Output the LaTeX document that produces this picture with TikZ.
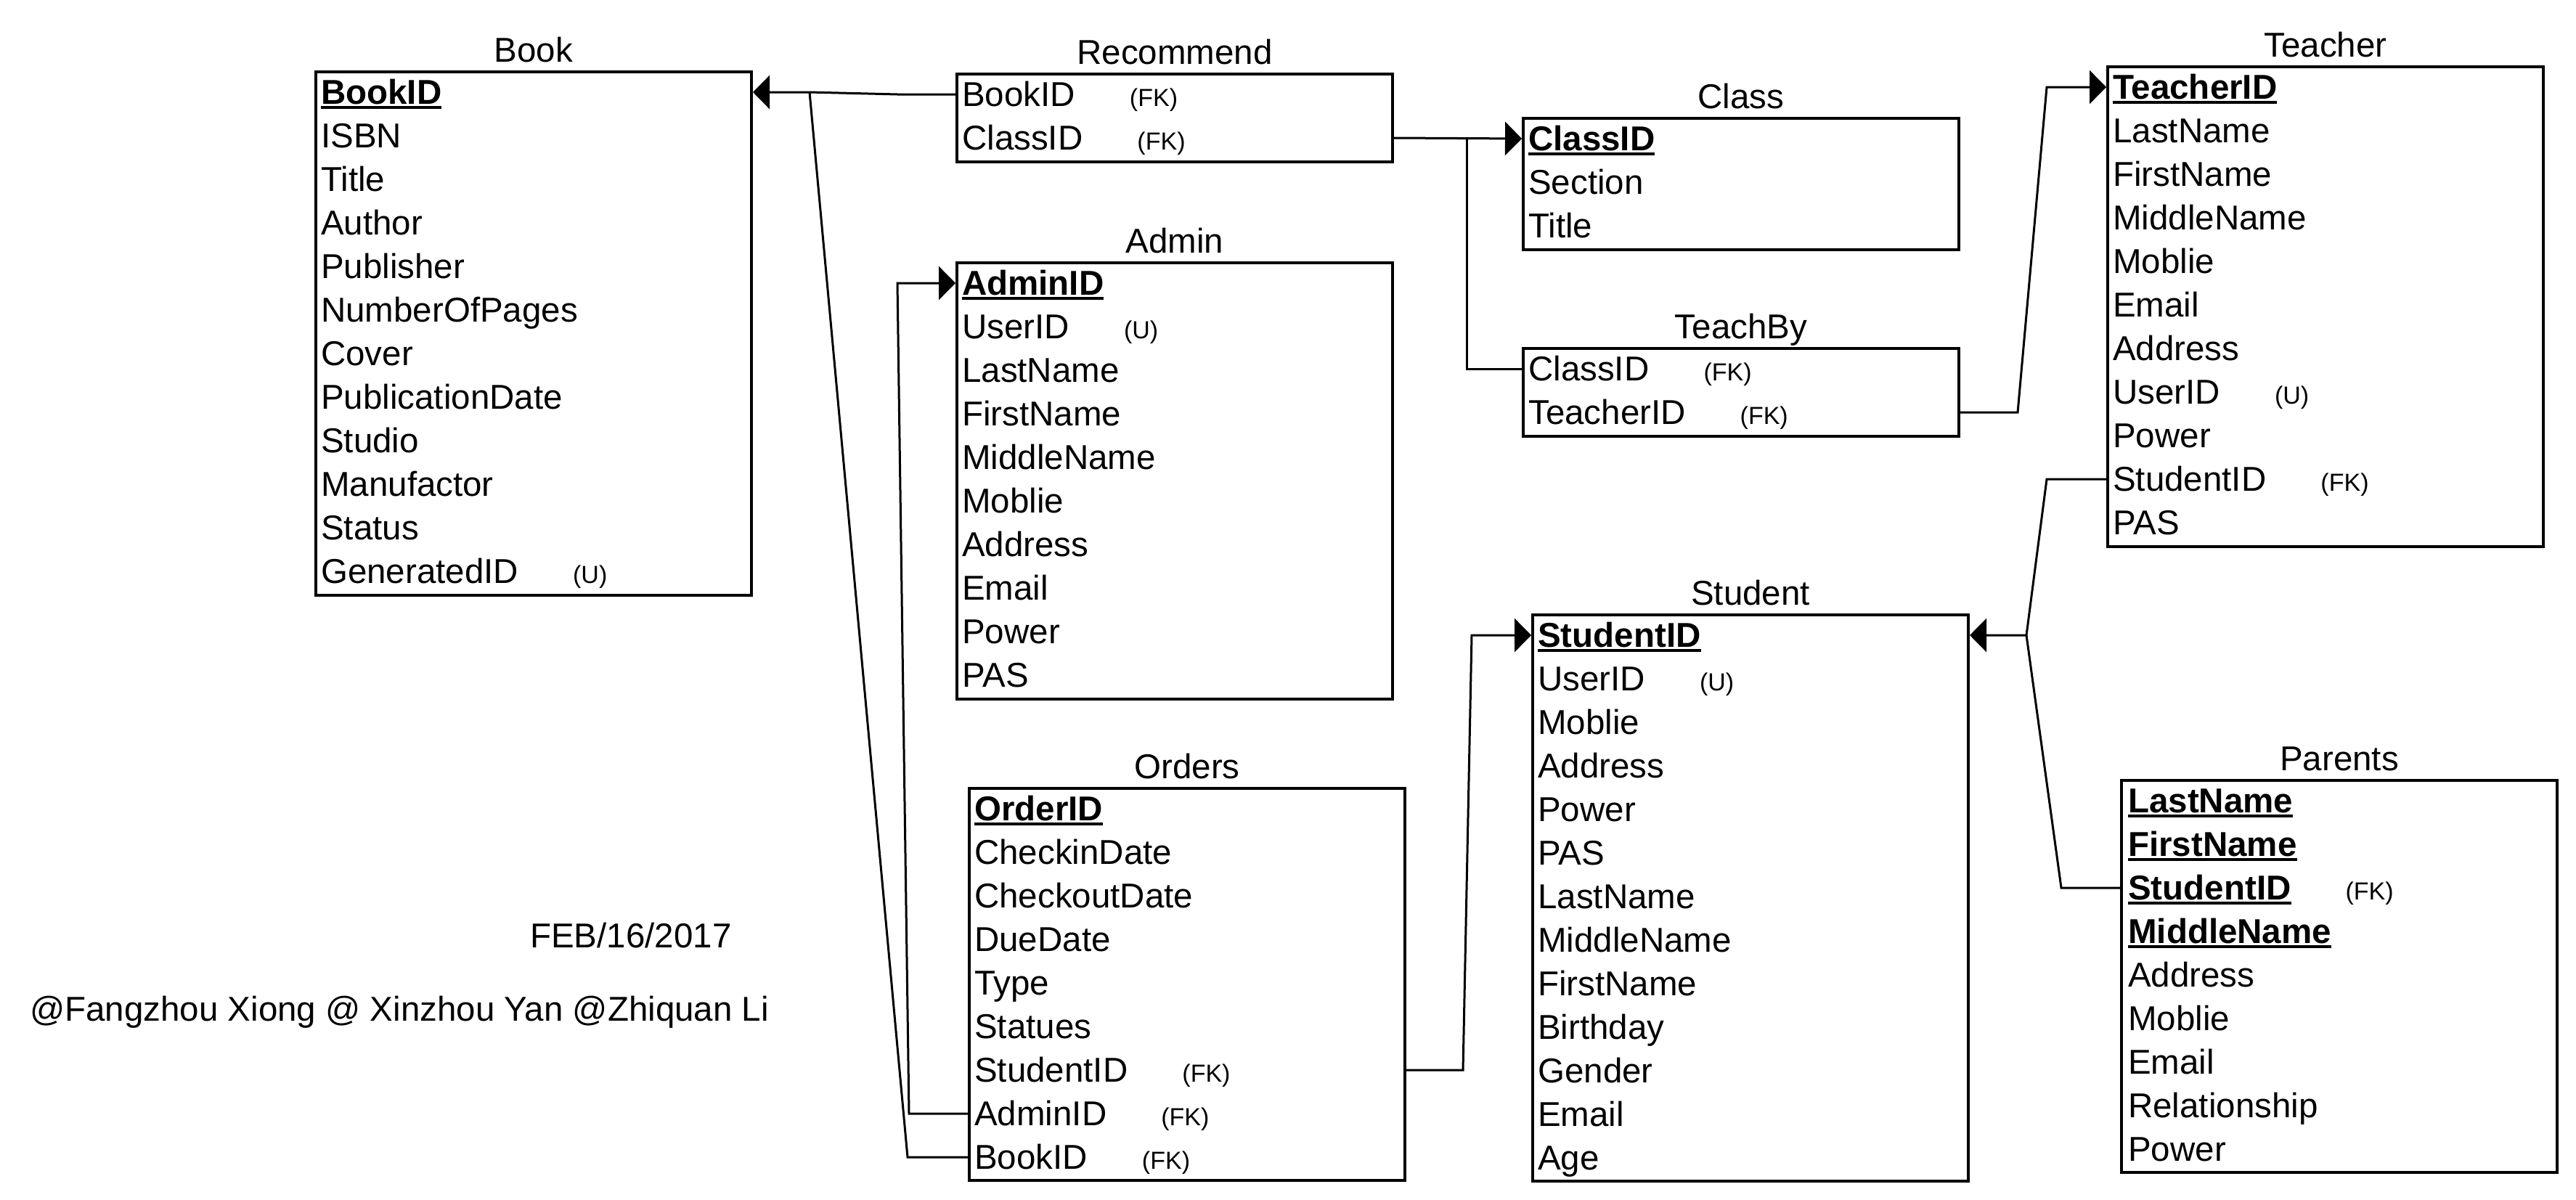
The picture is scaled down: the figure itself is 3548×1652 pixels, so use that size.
\documentclass[tikz,border=0pt]{standalone}
\usepackage{fontspec}
\setmainfont{Liberation Sans}
\usetikzlibrary{arrows.meta,calc}

\newcommand{\pk}[1]{\setbox0\hbox{\bfseries #1}\rlap{\rule[-7pt]{\wd0}{4pt}}\box0}
\newcommand{\fk}{\hspace{75pt}{\fontsize{34}{40}\selectfont (FK)}}
\newcommand{\uq}{\hspace{75pt}{\fontsize{34}{40}\selectfont (U)}}

\begin{document}
\begin{tikzpicture}[x=1pt,y=-1pt,
  every node/.style={font=\fontsize{47.5}{57}\selectfont},
  entity/.style={draw, line width=4pt, minimum width=600pt, inner sep=0pt, anchor=north west},
  title/.style={anchor=base, inner sep=0pt},
  field/.style={anchor=base west, inner sep=0pt, text height=38pt, text depth=6pt},
  link/.style={line width=3pt},
  fkarrow/.style={-{Triangle[length=23pt,width=46pt]}}]
\useasboundingbox (0,0) rectangle (3548,1652);
% tables
\node[entity, minimum height=721pt] (book) at (433,97) {};
\node[title] (booktitle) at ([yshift=12pt]book.north) {Book};
\foreach \f [count=\i] in {\pk{BookID},ISBN,Title,Author,Publisher,NumberOfPages,Cover,PublicationDate,Studio,Manufactor,Status,GeneratedID\uq}
  \node[field] (book\i) at ([xshift=9pt,yshift={-46pt-60pt*(\i-1)}]book.north west) {\f};

\node[entity, minimum height=121pt] (recommend) at (1316,100) {};
\node[title] (rectitle) at ([yshift=12pt]recommend.north) {Recommend};
\foreach \f [count=\i] in {BookID\fk,ClassID\fk}
  \node[field] (rec\i) at ([xshift=9pt,yshift={-46pt-60pt*(\i-1)}]recommend.north west) {\f};

\node[entity, minimum height=181pt] (class) at (2096,161) {};
\node[title] (classtitle) at ([yshift=12pt]class.north) {Class};
\foreach \f [count=\i] in {\pk{ClassID},Section,Title}
  \node[field] (cls\i) at ([xshift=9pt,yshift={-46pt-60pt*(\i-1)}]class.north west) {\f};

\node[entity, minimum height=601pt] (admin) at (1316,360) {};
\node[title] (admintitle) at ([yshift=12pt]admin.north) {Admin};
\foreach \f [count=\i] in {\pk{AdminID},UserID\uq,LastName,FirstName,MiddleName,Moblie,Address,Email,Power,PAS}
  \node[field] (adm\i) at ([xshift=9pt,yshift={-46pt-60pt*(\i-1)}]admin.north west) {\f};

\node[entity, minimum height=121pt] (teachby) at (2096,478) {};
\node[title] (tbtitle) at ([yshift=12pt]teachby.north) {TeachBy};
\foreach \f [count=\i] in {ClassID\fk,TeacherID\fk}
  \node[field] (tb\i) at ([xshift=9pt,yshift={-46pt-60pt*(\i-1)}]teachby.north west) {\f};

\node[entity, minimum height=661pt] (teacher) at (2901,90) {};
\node[title] (teachertitle) at ([yshift=12pt]teacher.north) {Teacher};
\foreach \f [count=\i] in {\pk{TeacherID},LastName,FirstName,MiddleName,Moblie,Email,Address,UserID\uq,Power,StudentID\fk,PAS}
  \node[field] (tch\i) at ([xshift=9pt,yshift={-46pt-60pt*(\i-1)}]teacher.north west) {\f};

\node[entity, minimum height=780pt] (student) at (2109,845) {};
\node[title] (studenttitle) at ([yshift=12pt]student.north) {Student};
\foreach \f [count=\i] in {\pk{StudentID},UserID\uq,Moblie,Address,Power,PAS,LastName,MiddleName,FirstName,Birthday,Gender,Email,Age}
  \node[field] (stu\i) at ([xshift=9pt,yshift={-46pt-60pt*(\i-1)}]student.north west) {\f};

\node[entity, minimum height=540pt] (orders) at (1333,1084) {};
\node[title] (orderstitle) at ([yshift=12pt]orders.north) {Orders};
\foreach \f [count=\i] in {\pk{OrderID},CheckinDate,CheckoutDate,DueDate,Type,Statues,StudentID\fk,AdminID\fk,BookID\fk}
  \node[field] (ord\i) at ([xshift=9pt,yshift={-46pt-60pt*(\i-1)}]orders.north west) {\f};

\node[entity, minimum height=540pt] (parents) at (2920,1073) {};
\node[title] (parentstitle) at ([yshift=12pt]parents.north) {Parents};
\foreach \f [count=\i] in {\pk{LastName},\pk{FirstName},\pk{StudentID}\fk,\pk{MiddleName},Address,Moblie,Email,Relationship,Power}
  \node[field] (par\i) at ([xshift=11pt,yshift={-46pt-60pt*(\i-1)}]parents.north west) {\f};

% notes
\node[anchor=base west, inner sep=0pt] (date) at (730,1305) {FEB/16/2017};
\node[anchor=base west, inner sep=0pt] (authors) at (41,1406) {@Fangzhou Xiong @ Xinzhou Yan @Zhiquan Li};

% links
\coordinate (bookjoin) at ($(book.east |- book1)+(78,0)$);
\draw[link,fkarrow] (recommend.west |- rec1) -- ++(-80,0) -- (bookjoin) -- (book.east |- book1);
\draw[link] (orders.west |- ord9) -- ++(-83,0) -- (bookjoin);
\draw[link,fkarrow] (orders.west |- ord8) -- ++(-81,0) -- ($(admin.west |- adm1)+(-80,0)$) -- (admin.west |- adm1);
\draw[link,fkarrow] (orders.east |- ord7) -- ++(78,0) -- ($(student.west |- stu1)+(-82,0)$) -- (student.west |- stu1);
\coordinate (classjoin) at ($(recommend.east |- rec2)+(100,0)$);
\draw[link,fkarrow] (recommend.east |- rec2) -- (class.west |- cls1);
\draw[link] (teachby.west |- tb1) -| (classjoin);
\draw[link,fkarrow] (teachby.east |- tb2) -- ++(79,0) -- ($(teacher.west |- tch1)+(-82,0)$) -- (teacher.west |- tch1);
\coordinate (studentjoin) at ($(student.east |- stu1)+(78,0)$);
\draw[link,fkarrow] (teacher.west |- tch10) -- ++(-82,0) -- (studentjoin) -- (student.east |- stu1);
\draw[link] (parents.west |- par3) -- ++(-81,0) -- (studentjoin);
\end{tikzpicture}
\end{document}
